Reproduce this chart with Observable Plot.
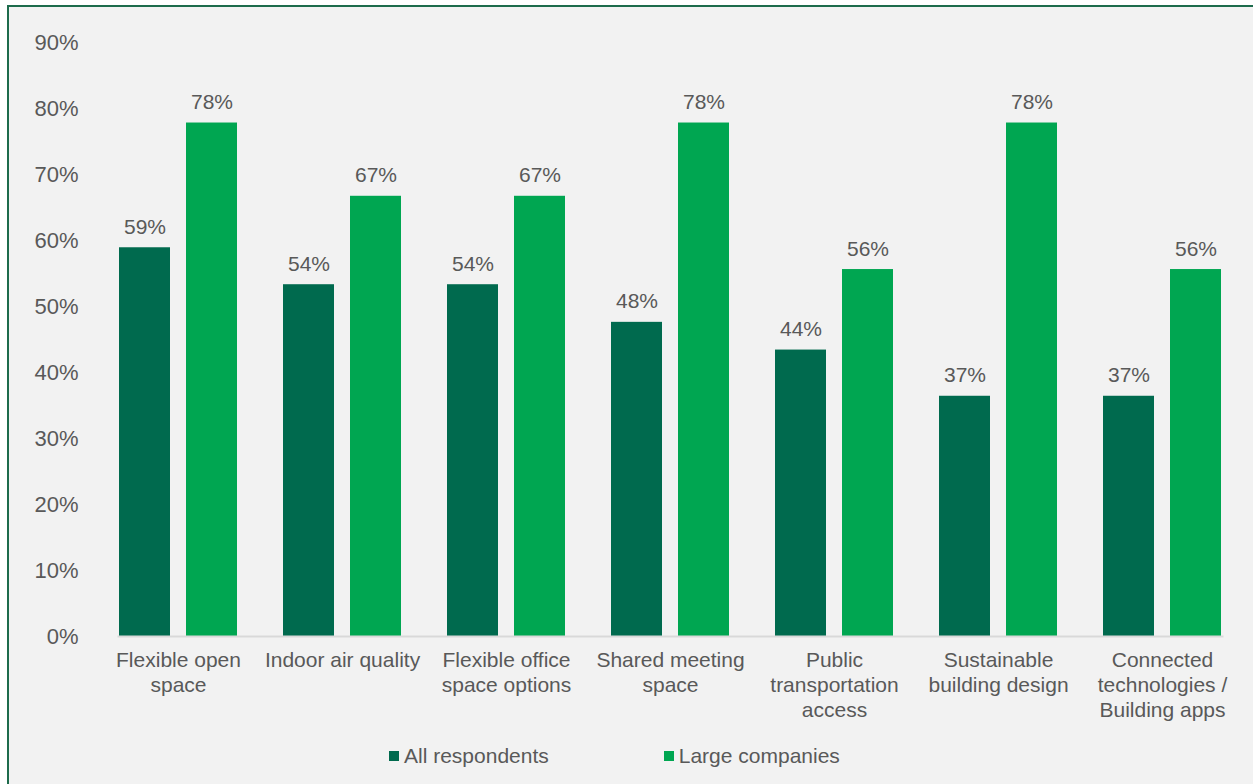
<!DOCTYPE html>
<html>
<head>
<meta charset="utf-8">
<script src="https://cdn.jsdelivr.net/npm/d3@7"></script>
<script src="https://cdn.jsdelivr.net/npm/@observablehq/plot@0.6"></script>
<style>
  html, body { margin: 0; padding: 0; background: #ffffff; overflow: hidden; width: 1253px; height: 784px; }
  #frame { position: absolute; left: 7px; top: 5px; width: 1400px; height: 900px;
           border-left: 2px solid #1d6b4c; border-top: 2px solid #1d6b4c; background: #f2f2f2; }
  #chart { position: absolute; left: 0; top: 0; }
  #legend { position: absolute; left: 389px; top: 744px; display: flex; align-items: center;
            font-family: "Liberation Sans", Arial, sans-serif; font-size: 21px; color: #595959; }
  .item { display: flex; align-items: center; }
  .sw { width: 10px; height: 10px; margin-right: 5px; }
</style>
</head>
<body>
<div id="frame"></div>
<div id="chart"></div>
<div id="legend"></div>
<script>
const categories = [
  "Flexible open\nspace",
  "Indoor air quality",
  "Flexible office\nspace options",
  "Shared meeting\nspace",
  "Public\ntransportation\naccess",
  "Sustainable\nbuilding design",
  "Connected\ntechnologies /\nBuilding apps"
];
const seriesNames = ["All respondents", "Large companies"];
const allRespondents = [0.589, 0.533, 0.533, 0.476, 0.434, 0.364, 0.364];
const largeCompanies = [0.778, 0.667, 0.667, 0.778, 0.556, 0.778, 0.556];
const allLabels = ["59%", "54%", "54%", "48%", "44%", "37%", "37%"];
const largeLabels = ["78%", "67%", "67%", "78%", "56%", "78%", "56%"];
const yTicks = [0, 0.1, 0.2, 0.3, 0.4, 0.5, 0.6, 0.7, 0.8, 0.9];
const colors = ["#006a4e", "#00a651"];

const data = [];
categories.forEach((c, i) => {
  data.push({cat: c, series: seriesNames[0], value: allRespondents[i], label: allLabels[i]});
  data.push({cat: c, series: seriesNames[1], value: largeCompanies[i], label: largeLabels[i]});
});

const font = "Liberation Sans, Arial, sans-serif";

const chart = Plot.plot({
  width: 1253,
  height: 730,
  marginLeft: 95,
  marginRight: 8,
  marginTop: 42,
  marginBottom: 94,
  style: {background: "transparent", fontFamily: font, fontSize: "21px", color: "#595959"},
  fx: {domain: categories, paddingInner: 0.27, paddingOuter: 0.135, label: null},
  x: {domain: seriesNames, paddingInner: 0.235, paddingOuter: 0, axis: null},
  y: {domain: [0, 0.9], label: null},
  color: {domain: seriesNames, range: colors},
  marks: [
    Plot.axisY({ticks: yTicks, tickFormat: d3.format(".0%"), tickSize: 0, tickPadding: 40, label: null, fontSize: 22, fill: "#595959"}),
    Plot.axisFx({anchor: "bottom", tickSize: 0, tickPadding: 13, label: null, fontSize: 21, lineHeight: 1.19, fill: "#595959"}),
    Plot.barY(data, {fx: "cat", x: "series", y: "value", fill: "series"}),
    Plot.text(data, {fx: "cat", x: "series", y: "value", text: "label", dy: -14, lineAnchor: "bottom", fontSize: 21, fill: "#595959"}),
    Plot.frame({anchor: "bottom", facet: "super", stroke: "#d9d9d9", strokeWidth: 2})
  ]
});
document.getElementById("chart").appendChild(chart);

const legend = document.getElementById("legend");
seriesNames.forEach((s, i) => {
  const it = document.createElement("div");
  it.className = "item";
  if (i > 0) it.style.marginLeft = "115px";
  const sw = document.createElement("div");
  sw.className = "sw";
  sw.style.background = colors[i];
  const tx = document.createElement("span");
  tx.textContent = s;
  it.appendChild(sw); it.appendChild(tx);
  legend.appendChild(it);
});
</script>
</body>
</html>
